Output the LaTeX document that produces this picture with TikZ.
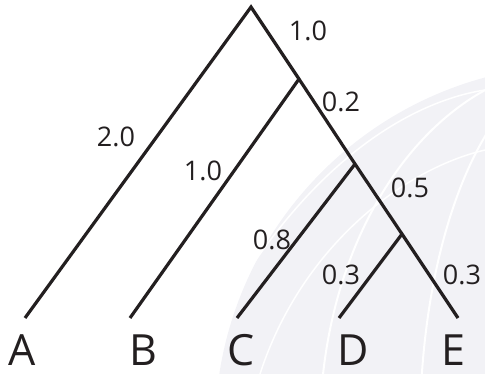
\documentclass[tikz,border=0pt]{standalone}
\usepackage{fontspec}
\setmainfont{Open Sans}
\definecolor{ink}{HTML}{231F20}
\definecolor{globe}{HTML}{F2F2F6}
\begin{document}
\begin{tikzpicture}[x=1pt,y=-1pt,
  branch/.style={draw=ink,line width=3.2pt},
  blen/.style={font=\fontsize{27}{30}\selectfont,text=ink,anchor=base,inner sep=0pt},
  leaf/.style={font=\fontsize{43}{46}\selectfont,text=ink,anchor=base,inner sep=0pt}]
\useasboundingbox (0,0) rectangle (485,374);
% faint globe watermark
\begin{scope}
\clip (0,0) rectangle (485,374);
\fill[globe] (580,430) circle (365);
\draw[white,line width=2pt] (580,430) ellipse (260 and 365);
\draw[white,line width=2pt] (580,430) ellipse (160 and 365);
\draw[white,line width=1.5pt] (230,300) .. controls (320,150) and (420,100) .. (485,90);
\draw[white,line width=1.5pt] (260,374) .. controls (300,250) and (400,170) .. (485,150);
\end{scope}
% tree nodes
\coordinate (r) at (251,7);
\coordinate (n1) at (299,79);
\coordinate (n2) at (355,164);
\coordinate (n3) at (402,234);
\coordinate (a) at (25,318);
\coordinate (b) at (130,318);
\coordinate (c) at (237,318);
\coordinate (d) at (339,318);
\coordinate (e) at (458,318);
\draw[branch,line join=miter] (a) -- (r) -- (n1) -- (n2) -- (n3) -- (e);
\draw[branch] (n1) -- (b);
\draw[branch] (n2) -- (c);
\draw[branch] (n3) -- (d);
% branch lengths
\node[blen] (l1) at (308,41) {1.0};
\node[blen] (l2) at (341,112) {0.2};
\node[blen] (l3) at (116,147) {2.0};
\node[blen] (l4) at (203,181) {1.0};
\node[blen] (l5) at (410,198) {0.5};
\node[blen] (l6) at (272,250) {0.8};
\node[blen] (l7) at (341,285) {0.3};
\node[blen] (l8) at (462,285) {0.3};
% leaves
\node[leaf] (ta) at (22,366) {A};
\node[leaf] (tb) at (143,366) {B};
\node[leaf] (tc) at (241,366) {C};
\node[leaf] (td) at (353,366) {D};
\node[leaf] (te) at (453,366) {E};
\end{tikzpicture}
\end{document}
